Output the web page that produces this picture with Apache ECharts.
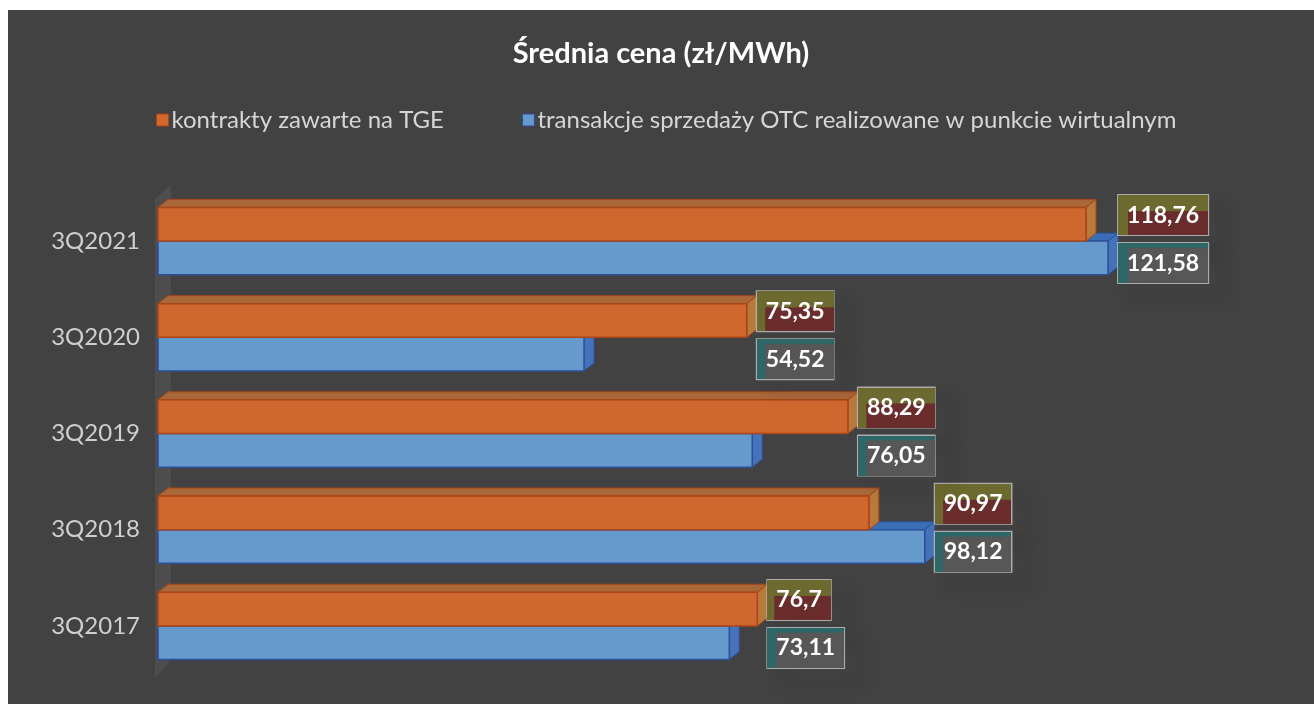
<!DOCTYPE html>
<html>
<head>
<meta charset="utf-8">
<script src="https://cdn.jsdelivr.net/npm/echarts@6/dist/echarts.min.js"></script>
<style>
  html,body{margin:0;padding:0;background:#fff;}
  #chart{position:absolute;left:8px;top:10px;width:1306px;height:694px;background:#424242;}
</style>
</head>
<body>
<div id="chart"></div>
<script>
'use strict';
var categories = ['3Q2017', '3Q2018', '3Q2019', '3Q2020', '3Q2021'];
var tgeValues = [76.7, 90.97, 88.29, 75.35, 118.76];
var otcValues = [73.11, 98.12, 76.05, 54.52, 121.58];
var seriesNames = ['kontrakty zawarte na TGE', 'transakcje sprzedaży OTC realizowane w punkcie wirtualnym'];

var DX = 10, DY = 8;
var FONT = 'Lato, "Open Sans", sans-serif';

// tło etykiet (dwa kolory jak w oryginale)
function labelBg(main, accent, topPart){
  var c = document.createElement('canvas');
  c.width = 100; c.height = 40;
  var g = c.getContext('2d');
  g.fillStyle = main;
  g.fillRect(0, 0, 100, 40);
  g.fillStyle = accent;
  g.fillRect(0, 0, 100, 40 * topPart);
  g.fillRect(0, 0, 11, 40);
  return c;
}
var bgTge = labelBg('#6b2c2c', '#6c6a2e', 0.4);
var bgOtc = labelBg('#575757', '#2e6767', 0.12);

function fmt(v){
  return String(v).replace('.', ',');
}

function barRenderer(upper, front, topc, side, stroke){
  return function(params, api){
    var v = api.value(0), c = api.value(1);
    var p0 = api.coord([0, c]), p1 = api.coord([v, c]);
    var h = api.size([0, 1])[1] * 0.35;
    var y0 = upper ? p0[1] - h : p0[1];
    var y1 = y0 + h;
    var x0 = p0[0], x1 = p1[0];
    return {
      type: 'group',
      children: [
        {type: 'polygon', shape: {points: [[x0, y0], [x0 + DX, y0 - DY], [x1 + DX, y0 - DY], [x1, y0]]},
          style: {fill: topc, stroke: stroke, lineWidth: 1}},
        {type: 'polygon', shape: {points: [[x1, y0], [x1 + DX, y0 - DY], [x1 + DX, y1 - DY], [x1, y1]]},
          style: {fill: side, stroke: stroke, lineWidth: 1}},
        {type: 'rect', shape: {x: x0, y: y0, width: x1 - x0, height: h},
          style: {fill: front, stroke: stroke, lineWidth: 1.5}}
      ]
    };
  };
}

function labelBox(text, x, y, bg){
  return {
    type: 'text',
    style: {
      text: text, x: x, y: y,
      verticalAlign: 'middle', align: 'left',
      font: 'bold 23px ' + FONT, fill: '#ffffff',
      lineHeight: 28,
      padding: [7, 9, 5, 9],
      backgroundColor: {image: bg},
      borderColor: 'rgba(190,190,190,0.85)', borderWidth: 2,
      shadowColor: 'rgba(0,0,0,0.3)', shadowBlur: 14, shadowOffsetX: 16, shadowOffsetY: 14
    }
  };
}

var chart = echarts.init(document.getElementById('chart'));
chart.setOption({
  backgroundColor: '#424242',
  animation: false,
  title: {
    text: 'Średnia cena (zł/MWh)',
    left: 'center', top: 24,
    textStyle: {color: '#ffffff', fontSize: 29, fontWeight: 'bold', fontFamily: FONT}
  },
  legend: {
    left: 143, top: 93,
    itemWidth: 12, itemHeight: 12, itemGap: 78,
    icon: 'rect',
    textStyle: {color: '#d6d6d6', fontSize: 24, fontFamily: FONT, padding: [0, 0, 0, -2]},
    data: [
      {name: seriesNames[0], itemStyle: {color: '#d0672f', borderColor: '#a94516', borderWidth: 1}},
      {name: seriesNames[1], itemStyle: {color: '#6699cc', borderColor: '#2b4f98', borderWidth: 1}}
    ]
  },
  grid: {left: 150, top: 183, width: 1094, height: 481},
  xAxis: {type: 'value', min: 0, max: 140, show: false},
  yAxis: {
    type: 'category', data: categories,
    axisLine: {show: false}, axisTick: {show: false}, splitLine: {show: false},
    axisLabel: {color: '#cfcfcf', fontSize: 24, fontFamily: FONT, margin: 18}
  },
  series: [
    {
      name: 'wall', type: 'custom', silent: true, z: 1,
      data: [[0, 0]],
      renderItem: function(params, api){
        var band = api.size([0, 1])[1];
        var b = api.coord([0, 0]), t = api.coord([0, categories.length - 1]);
        var yb = b[1] + band / 2 + 4, yt = t[1] - band / 2;
        var x = b[0] - 3;
        return {type: 'polygon', shape: {points: [[x, yb], [x, yt + 6], [x + DX + 6, yt - DY], [x + DX + 6, yb - DY - 10]]},
          style: {fill: 'rgba(255,255,255,0.06)'}};
      }
    },
    {
      name: seriesNames[1], type: 'custom', z: 2,
      itemStyle: {color: '#6699cc'},
      encode: {x: 0, y: 1},
      data: otcValues.map(function(v, i){ return [v, i]; }),
      renderItem: barRenderer(false, '#6699cc', '#3b6fb5', '#4572b9', '#2b4f98')
    },
    {
      name: seriesNames[0], type: 'custom', z: 3,
      itemStyle: {color: '#d0672f'},
      encode: {x: 0, y: 1},
      data: tgeValues.map(function(v, i){ return [v, i]; }),
      renderItem: barRenderer(true, '#d0672f', '#a8683a', '#b87a3c', '#a94516')
    },
    {
      name: 'labels', type: 'custom', z: 5, silent: true,
      encode: {x: 0, y: 1},
      data: categories.map(function(c, i){ return [Math.max(tgeValues[i], otcValues[i]), i]; }),
      renderItem: function(params, api){
        var i = params.dataIndex;
        var p = api.coord([api.value(0), api.value(1)]);
        var x = p[0] + 10;
        return {
          type: 'group',
          children: [
            labelBox(fmt(tgeValues[i]), x, p[1] - 26, bgTge),
            labelBox(fmt(otcValues[i]), x, p[1] + 22, bgOtc)
          ]
        };
      }
    }
  ]
});
</script>
</body>
</html>
